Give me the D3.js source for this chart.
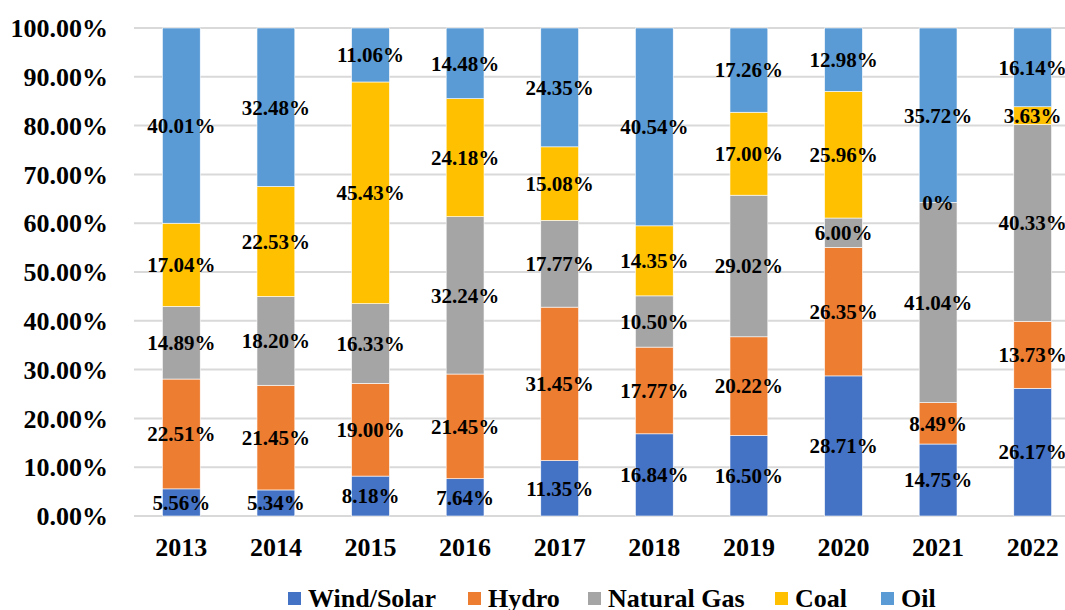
<!DOCTYPE html>
<meta charset="utf-8">
<title>Energy mix</title>
<style>
    body { margin: 0; background: #fff; }
    text { font-family: "Liberation Serif", "Times New Roman", serif; font-weight: bold; fill: #000; }
</style>
<script src="https://d3js.org/d3.v7.js"></script>
<body>
<script>
    // data
    const years = ["2013", "2014", "2015", "2016", "2017", "2018", "2019", "2020", "2021", "2022"];
    const seriesNames = ["Wind/Solar", "Hydro", "Natural Gas", "Coal", "Oil"];
    const windSolar = [5.56, 5.34, 8.18, 7.64, 11.35, 16.84, 16.50, 28.71, 14.75, 26.17];
    const hydro = [22.51, 21.45, 19.00, 21.45, 31.45, 17.77, 20.22, 26.35, 8.49, 13.73];
    const naturalGas = [14.89, 18.20, 16.33, 32.24, 17.77, 10.50, 29.02, 6.00, 41.04, 40.33];
    const coal = [17.04, 22.53, 45.43, 24.18, 15.08, 14.35, 17.00, 25.96, 0, 3.63];
    const oil = [40.01, 32.48, 11.06, 14.48, 24.35, 40.54, 17.26, 12.98, 35.72, 16.14];
    const yTicks = [0, 0.1, 0.2, 0.3, 0.4, 0.5, 0.6, 0.7, 0.8, 0.9, 1.0];
    const colors = ["#4472C4", "#ED7D31", "#A5A5A5", "#FFC000", "#5B9BD5"];

    const values = [windSolar, hydro, naturalGas, coal, oil];
    const rows = years.map((y, i) => {
        const r = { year: y };
        seriesNames.forEach((s, k) => r[s] = values[k][i]);
        return r;
    });

    const width = 1065, height = 610;
    const margin = { top: 28, left: 134, bottom: 94 };
    const plotH = height - margin.top - margin.bottom;

    const svg = d3.select("body").append("svg")
        .attr("width", width)
        .attr("height", height);

    const x = d3.scaleBand()
        .domain(years)
        .range([margin.left, margin.left + 946])
        .paddingInner(0.6)
        .paddingOuter(0.3);

    const y = d3.scaleLinear()
        .domain([0, 1])
        .range([margin.top + plotH, margin.top]);

    // gridlines
    svg.append("g")
        .selectAll("line")
        .data(yTicks)
        .join("line")
        .attr("x1", margin.left)
        .attr("x2", width)
        .attr("y1", d => y(d))
        .attr("y2", d => y(d))
        .attr("stroke", "#d9d9d9")
        .attr("stroke-width", 2);

    // y axis labels
    svg.append("g")
        .selectAll("text")
        .data(yTicks)
        .join("text")
        .attr("x", 108)
        .attr("y", d => y(d))
        .attr("dy", "0.35em")
        .attr("text-anchor", "end")
        .style("font-size", "26px")
        .text(d => d3.format(".2%")(d));

    // x axis labels
    svg.append("g")
        .selectAll("text")
        .data(years)
        .join("text")
        .attr("x", d => x(d) + x.bandwidth() / 2)
        .attr("y", 547)
        .attr("dy", "0.35em")
        .attr("text-anchor", "middle")
        .style("font-size", "26px")
        .text(d => d);

    const stack = d3.stack()
        .keys(seriesNames)
        .offset(d3.stackOffsetExpand);
    const stacked = stack(rows);

    const layers = svg.append("g")
        .selectAll("g")
        .data(stacked)
        .join("g")
        .attr("fill", (d, i) => colors[i]);

    layers.selectAll("rect")
        .data(d => d)
        .join("rect")
        .attr("x", d => x(d.data.year))
        .attr("y", d => y(d[1]))
        .attr("width", x.bandwidth())
        .attr("height", d => y(d[0]) - y(d[1]))
        .attr("stroke", "#ffffff")
        .attr("stroke-width", 0.6);

    // value labels
    svg.append("g")
        .selectAll("g")
        .data(stacked)
        .join("g")
        .selectAll("text")
        .data(d => d.map(p => ({ p: p, key: d.key })))
        .join("text")
        .attr("x", d => x(d.p.data.year) + x.bandwidth() / 2)
        .attr("y", d => y((d.p[0] + d.p[1]) / 2))
        .attr("dy", "0.35em")
        .attr("text-anchor", "middle")
        .style("font-size", "21px")
        .text(d => {
            const v = d.p.data[d.key];
            return v === 0 ? "0%" : v.toFixed(2) + "%";
        });

    // legend
    const legendX = [288, 468, 588, 775, 881];
    const legend = svg.append("g")
        .selectAll("g")
        .data(seriesNames)
        .join("g")
        .attr("transform", (d, i) => `translate(${legendX[i]}, 598)`);

    legend.append("rect")
        .attr("x", 0)
        .attr("y", -6)
        .attr("width", 13)
        .attr("height", 13)
        .attr("fill", (d, i) => colors[i]);

    legend.append("text")
        .attr("x", 20)
        .attr("y", 0)
        .attr("dy", "0.35em")
        .style("font-size", "26px")
        .text(d => d);
</script>
</body>
